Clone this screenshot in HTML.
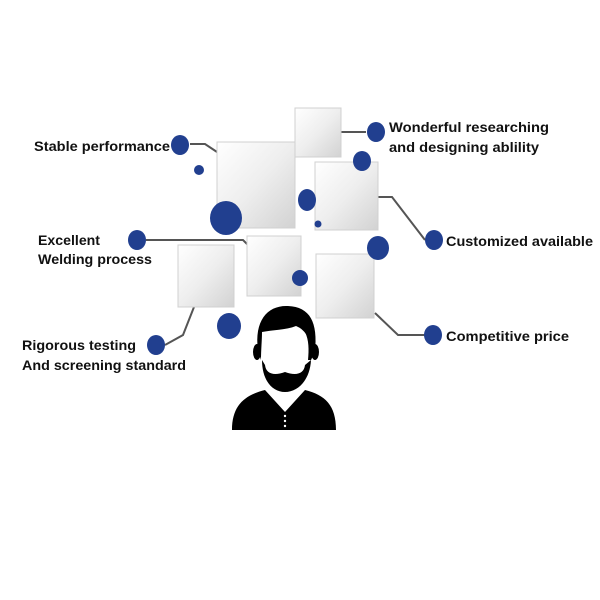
<!DOCTYPE html>
<html><head><style>
html,body{margin:0;padding:0;background:#fff;}
svg{display:block}
text{font-family:"Liberation Sans",sans-serif;font-weight:bold;font-size:14px;fill:#111}
</style></head><body>
<svg width="600" height="600" viewBox="0 0 600 600" xmlns="http://www.w3.org/2000/svg">
<defs>
<linearGradient id="g" x1="0" y1="0" x2="1" y2="1">
<stop offset="0" stop-color="#ffffff"/><stop offset="0.5" stop-color="#eeeeee"/><stop offset="1" stop-color="#d2d2d2"/>
</linearGradient>
</defs>
<g stroke="#555" stroke-width="2" fill="none">
<polyline points="190,144 205,144 217,152"/>
<polyline points="341,132 366,132"/>
<polyline points="378,197 392,197 425,240"/>
<polyline points="146,240 243,240 248,245"/>
<polyline points="194,307 183,335 165,345"/>
<polyline points="375,313 398,335 425,335"/>
</g>
<g fill="url(#g)" stroke="#d0d0d0" stroke-width="1">
<rect x="217" y="142" width="78" height="86"/>
<rect x="295" y="108" width="46" height="49"/>
<rect x="315" y="162" width="63" height="68"/>
<rect x="247" y="236" width="54" height="60"/>
<rect x="178" y="245" width="56" height="62"/>
<rect x="316" y="254" width="58" height="64"/>
</g>
<g fill="#213f8f">
<ellipse cx="180" cy="145" rx="9" ry="10"/>
<circle cx="199" cy="170" r="5"/>
<ellipse cx="226" cy="218" rx="16" ry="17"/>
<ellipse cx="307" cy="200" rx="9" ry="11"/>
<circle cx="318" cy="224" r="3.5"/>
<ellipse cx="362" cy="161" rx="9" ry="10"/>
<ellipse cx="376" cy="132" rx="9" ry="10"/>
<ellipse cx="378" cy="248" rx="11" ry="12"/>
<ellipse cx="300" cy="278" rx="8" ry="8"/>
<ellipse cx="229" cy="326" rx="12" ry="13"/>
<ellipse cx="137" cy="240" rx="9" ry="10"/>
<ellipse cx="434" cy="240" rx="9" ry="10"/>
<ellipse cx="156" cy="345" rx="9" ry="10"/>
<ellipse cx="433" cy="335" rx="9" ry="10"/>
</g>
<g fill="#000">
<path d="M232,430 C232,405 245,395 265,390 L285,412 L305,390 C325,395 336,405 336,430 Z"/>
<path d="M258,350 C254,320 268,305 288,306 C310,307 318,322 315,352 L311,360 C312,340 306,330 296,326 C286,330 272,330 262,332 C262,340 261,350 261,360 Z"/>
<path d="M262,360 C262,380 272,392 285,392 C298,392 310,380 311,360 L305,365 C304,374 296,376 285,372 C274,376 266,374 265,365 Z"/>
<ellipse cx="257" cy="352" rx="4" ry="8"/>
<ellipse cx="315" cy="352" rx="4" ry="8"/>
<path d="M309,330 C314,338 314,350 311,360 L308,360 C309,350 309,340 305,332 Z"/>
</g>
<g fill="#fff"><circle cx="285" cy="416" r="1.2"/><circle cx="285" cy="421" r="1.2"/><circle cx="285" cy="426" r="1.2"/></g>
<text x="34" y="151" textLength="136" lengthAdjust="spacingAndGlyphs">Stable performance</text>
<text x="389" y="132" textLength="160" lengthAdjust="spacingAndGlyphs">Wonderful researching</text>
<text x="389" y="152" textLength="150" lengthAdjust="spacingAndGlyphs">and designing ablility</text>
<text x="38" y="245" textLength="62" lengthAdjust="spacingAndGlyphs">Excellent</text>
<text x="38" y="264" textLength="114" lengthAdjust="spacingAndGlyphs">Welding process</text>
<text x="446" y="246" textLength="147" lengthAdjust="spacingAndGlyphs">Customized available</text>
<text x="22" y="350" textLength="114" lengthAdjust="spacingAndGlyphs">Rigorous testing</text>
<text x="22" y="370" textLength="164" lengthAdjust="spacingAndGlyphs">And screening standard</text>
<text x="446" y="341" textLength="123" lengthAdjust="spacingAndGlyphs">Competitive price</text>
</svg>
</body></html>
